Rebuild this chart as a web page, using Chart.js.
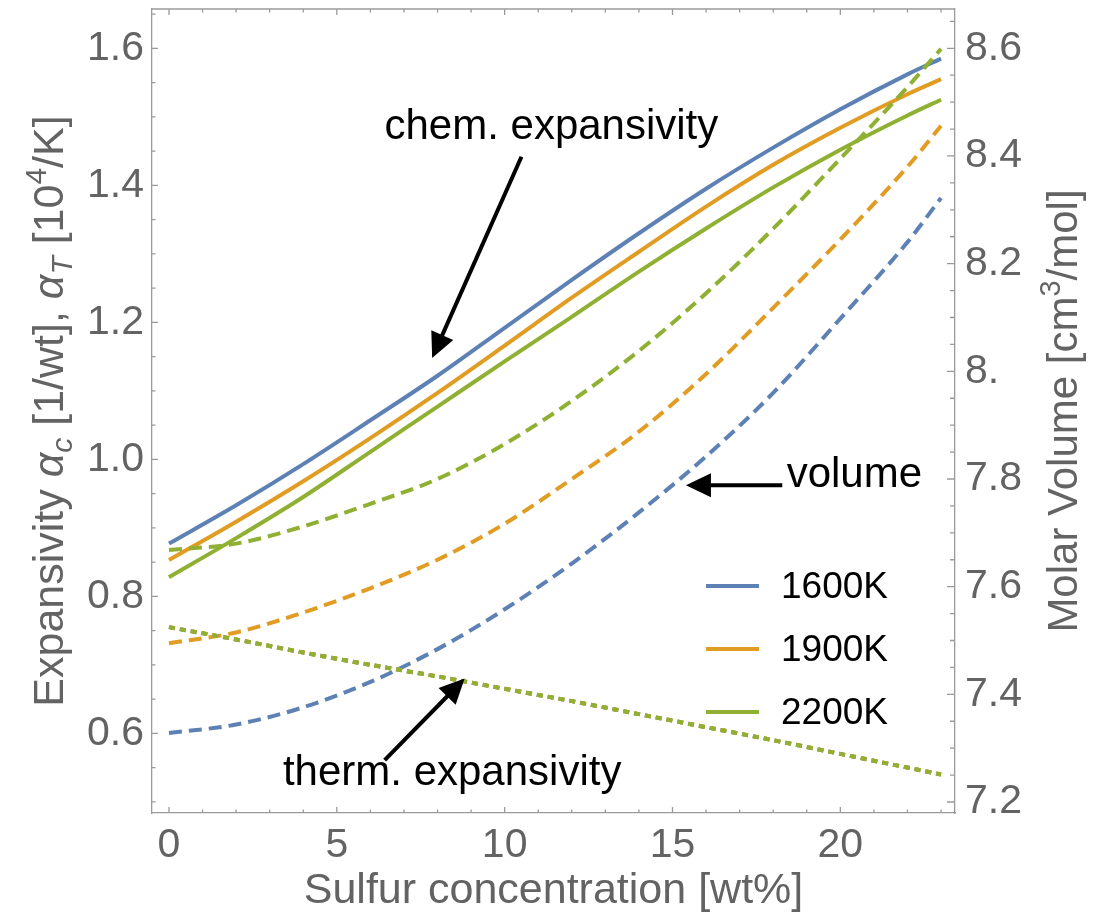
<!DOCTYPE html>
<html><head><meta charset="utf-8">
<script src="https://cdn.jsdelivr.net/npm/chart.js@4.4.1/dist/chart.umd.min.js"></script>
<style>html,body{margin:0;padding:0;background:#fff}#wrap{width:1113px;height:918px}</style>
</head><body><div id="wrap"><canvas id="c" width="1113" height="918"></canvas></div>
<script>
// ---------------- data ----------------
const sulfurWt = [0, 2, 4, 6, 8, 10, 12, 14, 16, 18, 20, 22, 23];
const chem1600 = [0.877, 0.933, 0.993, 1.057, 1.122, 1.192, 1.262, 1.330, 1.395, 1.455, 1.511, 1.562, 1.585];
const chem1900 = [0.853, 0.909, 0.968, 1.031, 1.097, 1.166, 1.236, 1.303, 1.369, 1.430, 1.484, 1.533, 1.555];
const chem2200 = [0.828, 0.885, 0.945, 1.011, 1.077, 1.143, 1.208, 1.274, 1.337, 1.397, 1.452, 1.502, 1.525];
const vol1600 = [7.328, 7.344, 7.376, 7.423, 7.484, 7.558, 7.643, 7.738, 7.842, 7.960, 8.098, 8.240, 8.322];
const vol1900 = [7.495, 7.515, 7.552, 7.597, 7.650, 7.717, 7.800, 7.888, 7.995, 8.118, 8.245, 8.380, 8.456];
const vol2200 = [7.668, 7.680, 7.712, 7.754, 7.800, 7.865, 7.945, 8.038, 8.145, 8.265, 8.395, 8.528, 8.599];
const therm1600 = [0.755, 0.737, 0.718, 0.700, 0.683, 0.665, 0.647, 0.628, 0.609, 0.590, 0.570, 0.550, 0.540];
const therm1900 = [0.755, 0.737, 0.718, 0.700, 0.683, 0.665, 0.647, 0.628, 0.609, 0.590, 0.570, 0.550, 0.540];
const therm2200 = [0.755, 0.737, 0.718, 0.700, 0.683, 0.665, 0.647, 0.628, 0.609, 0.590, 0.570, 0.550, 0.540];
const temperatures = ['1600K', '1900K', '2200K'];
const xTickValues = [0, 5, 10, 15, 20];
const leftTickValues = [0.6, 0.8, 1.0, 1.2, 1.4, 1.6];
const leftTickLabels = ['0.6', '0.8', '1.0', '1.2', '1.4', '1.6'];
const rightTickValues = [7.2, 7.4, 7.6, 7.8, 8.0, 8.2, 8.4, 8.6];
const rightTickLabels = ['7.2', '7.4', '7.6', '7.8', '8.', '8.2', '8.4', '8.6'];
const annotationTexts = ['chem. expansivity', 'volume', 'therm. expansivity'];

// ---------------- style ----------------
const colors = ['#5E81B5', '#E19C24', '#8FB032'];
const FONT = "'Liberation Sans', Arial, Helvetica, sans-serif";
const frameColor = '#9a9a9a';
const labelColor = '#636363';
const LW = 4;

function pts(ys) { return sulfurWt.map((x, i) => ({ x: x, y: ys[i] })); }
function ds(label, ys, ci, axis, dash, order) {
  return {
    label: label, data: pts(ys), yAxisID: axis, order: order,
    borderColor: colors[ci], backgroundColor: colors[ci],
    borderWidth: LW, borderDash: dash, borderCapStyle: 'butt',
    pointRadius: 0, fill: false, cubicInterpolationMode: 'monotone'
  };
}
// higher order value is drawn first (underneath)
const datasets = [
  ds(temperatures[0], chem1600, 0, 'yL', [], 8),
  ds(temperatures[1], chem1900, 1, 'yL', [], 7),
  ds(temperatures[2], chem2200, 2, 'yL', [], 6),
  ds(temperatures[0] + ' volume', vol1600, 0, 'yR', [13, 7], 5),
  ds(temperatures[1] + ' volume', vol1900, 1, 'yR', [13, 7], 4),
  ds(temperatures[2] + ' volume', vol2200, 2, 'yR', [13, 7], 3),
  ds(temperatures[0] + ' therm', therm1600, 0, 'yL', [6, 5], 2),
  ds(temperatures[1] + ' therm', therm1900, 1, 'yL', [6, 5], 1),
  ds(temperatures[2] + ' therm', therm2200, 2, 'yL', [6, 5], 0)
];

function fixedTicks(values) {
  return function (scale) { scale.ticks = values.map(v => ({ value: v })); };
}

// frame, inward ticks
const framePlugin = {
  id: 'frame',
  afterDatasetsDraw(chart) {
    const ctx = chart.ctx, a = chart.chartArea;
    const sx = chart.scales.x, yl = chart.scales.yL, yr = chart.scales.yR;
    ctx.save();
    ctx.strokeStyle = frameColor; ctx.lineWidth = 1.3;
    ctx.beginPath();
    ctx.moveTo(a.left, a.top); ctx.lineTo(a.right, a.top);
    for (let v = 0; v <= 23; v++) {
      const px = sx.getPixelForValue(v);
      const L = (v % 5 === 0) ? 6 : 3.5;
      ctx.moveTo(px, a.bottom); ctx.lineTo(px, a.bottom - L);
      ctx.moveTo(px, a.top); ctx.lineTo(px, a.top + L);
    }
    for (let k = 10; k <= 33; k++) {
      const v = k * 0.05; const py = yl.getPixelForValue(v);
      if (py < a.top || py > a.bottom) continue;
      const L = (k % 4 === 0) ? 6 : 3.5;
      ctx.moveTo(a.left, py); ctx.lineTo(a.left + L, py);
    }
    for (let k = 144; k <= 173; k++) {
      const v = k * 0.05; const py = yr.getPixelForValue(v);
      if (py < a.top || py > a.bottom) continue;
      const L = (k % 4 === 0) ? 8 : 5;
      ctx.moveTo(a.right, py); ctx.lineTo(a.right - L, py);
    }
    ctx.stroke();
    ctx.restore();
  }
};

function drawRuns(ctx, runs, x, yc, size, color, rotate) {
  ctx.save();
  ctx.translate(x, yc);
  if (rotate) ctx.rotate(-Math.PI / 2);
  ctx.fillStyle = color; ctx.textBaseline = 'alphabetic'; ctx.textAlign = 'left';
  const fontOf = r => (r.it ? 'italic ' : '') + Math.round(size * (r.s || 1)) + 'px ' + FONT;
  let total = 0;
  runs.forEach(r => { ctx.font = fontOf(r); total += ctx.measureText(r.t).width; });
  let pos = -total / 2;
  runs.forEach(r => { ctx.font = fontOf(r); ctx.fillText(r.t, pos, (r.dy || 0) * size); pos += ctx.measureText(r.t).width; });
  ctx.restore();
}

const titlePlugin = {
  id: 'titles',
  afterDraw(chart) {
    const ctx = chart.ctx, a = chart.chartArea;
    const yc = (a.top + a.bottom) / 2;
    drawRuns(ctx, [
      { t: 'Expansivity ' }, { t: 'α', it: true }, { t: 'c', it: true, s: 0.7, dy: 0.2 },
      { t: ' [1/wt], ' }, { t: 'α', it: true }, { t: 'T', it: true, s: 0.7, dy: 0.2 },
      { t: ' [10' }, { t: '4', s: 0.7, dy: -0.4 }, { t: '/K]' }
    ], 63, yc, 43, labelColor, true);
    drawRuns(ctx, [
      { t: 'Molar Volume [cm' }, { t: '3', s: 0.7, dy: -0.4 }, { t: '/mol]' }
    ], 1077, yc, 42, labelColor, true);
    drawRuns(ctx, [{ t: 'Sulfur concentration [wt%]' }], (a.left + a.right) / 2, 903, 43, labelColor, false);
  }
};

const annotations = [
  { text: annotationTexts[0], axis: 'yL', tx: 6.42, ty: 1.4676, from: [10.50, 1.4418], to: [7.84, 1.148] },
  { text: annotationTexts[1], axis: 'yR', tx: 18.40, ty: 7.7855, from: [18.27, 7.7886], to: [15.40, 7.7886] },
  { text: annotationTexts[2], axis: 'yL', tx: 3.395, ty: 0.5245, from: [6.425, 0.561], to: [8.807, 0.6799] }
];

const annotPlugin = {
  id: 'annot',
  afterDraw(chart) {
    const ctx = chart.ctx, sx = chart.scales.x;
    ctx.save();
    annotations.forEach(an => {
      const sy = chart.scales[an.axis];
      ctx.font = '42px ' + FONT; ctx.fillStyle = '#000'; ctx.textBaseline = 'alphabetic'; ctx.textAlign = 'left';
      ctx.fillText(an.text, sx.getPixelForValue(an.tx), sy.getPixelForValue(an.ty));
      const x1 = sx.getPixelForValue(an.from[0]), y1 = sy.getPixelForValue(an.from[1]);
      const x2 = sx.getPixelForValue(an.to[0]), y2 = sy.getPixelForValue(an.to[1]);
      const dx = x2 - x1, dy = y2 - y1, len = Math.hypot(dx, dy), ux = dx / len, uy = dy / len;
      const HL = 25, HW = 12;
      const bx = x2 - ux * HL, by = y2 - uy * HL;
      ctx.strokeStyle = '#000'; ctx.lineWidth = 4; ctx.lineCap = 'butt';
      ctx.beginPath(); ctx.moveTo(x1, y1); ctx.lineTo(bx + ux * 2, by + uy * 2); ctx.stroke();
      ctx.beginPath();
      ctx.moveTo(x2, y2);
      ctx.lineTo(bx - uy * HW, by + ux * HW);
      ctx.lineTo(bx + uy * HW, by - ux * HW);
      ctx.closePath(); ctx.fill();
    });
    ctx.restore();
  }
};

const legendPlugin = {
  id: 'customLegend',
  afterDraw(chart) {
    const ctx = chart.ctx, a = chart.chartArea;
    ctx.save();
    ctx.font = '37px ' + FONT; ctx.textBaseline = 'middle'; ctx.textAlign = 'left';
    temperatures.forEach((t, i) => {
      const y = 586 + i * 63;
      ctx.strokeStyle = colors[i]; ctx.lineWidth = 4; ctx.lineCap = 'butt';
      ctx.beginPath(); ctx.moveTo(a.right - 249, y); ctx.lineTo(a.right - 196, y); ctx.stroke();
      ctx.fillStyle = '#000';
      ctx.fillText(t, a.right - 174, y + 2);
    });
    ctx.restore();
  }
};

const tickFont = { family: FONT, size: 41 };
new Chart(document.getElementById('c'), {
  type: 'line',
  data: { datasets: datasets },
  options: {
    responsive: false, animation: false, devicePixelRatio: 1,
    layout: { padding: { top: 9, left: 0, right: 0, bottom: 0 } },
    plugins: { legend: { display: false }, tooltip: { enabled: false } },
    scales: {
      x: {
        type: 'linear', position: 'bottom', min: -0.506, max: 23.416,
        afterBuildTicks: fixedTicks(xTickValues),
        afterFit(s) { s.height = 105; s.paddingLeft = 0; s.paddingRight = 0; },
        grid: { display: false, drawTicks: false },
        border: { display: true, color: frameColor, width: 1.3 },
        ticks: { font: tickFont, color: labelColor, padding: 8, maxRotation: 0, minRotation: 0, autoSkip: false,
                 callback: v => String(v) }
      },
      yL: {
        type: 'linear', position: 'left', min: 0.4837, max: 1.6574,
        afterBuildTicks: fixedTicks(leftTickValues),
        afterFit(s) { s.width = 152; s.paddingTop = 0; s.paddingBottom = 0; },
        grid: { display: false, drawTicks: false },
        border: { display: true, color: frameColor, width: 1.3 },
        ticks: { font: tickFont, color: labelColor, padding: 8, autoSkip: false,
                 callback: v => { const i = leftTickValues.findIndex(t => Math.abs(t - v) < 1e-6); return i >= 0 ? leftTickLabels[i] : ''; } }
      },
      yR: {
        type: 'linear', position: 'right', min: 7.1796, max: 8.673,
        afterBuildTicks: fixedTicks(rightTickValues),
        afterFit(s) { s.width = 158; s.paddingTop = 0; s.paddingBottom = 0; },
        grid: { display: false, drawTicks: false },
        border: { display: true, color: frameColor, width: 1.3 },
        ticks: { font: tickFont, color: labelColor, padding: 10, autoSkip: false,
                 callback: v => { const i = rightTickValues.findIndex(t => Math.abs(t - v) < 1e-6); return i >= 0 ? rightTickLabels[i] : ''; } }
      }
    }
  },
  plugins: [framePlugin, titlePlugin, annotPlugin, legendPlugin]
});
</script></body></html>
